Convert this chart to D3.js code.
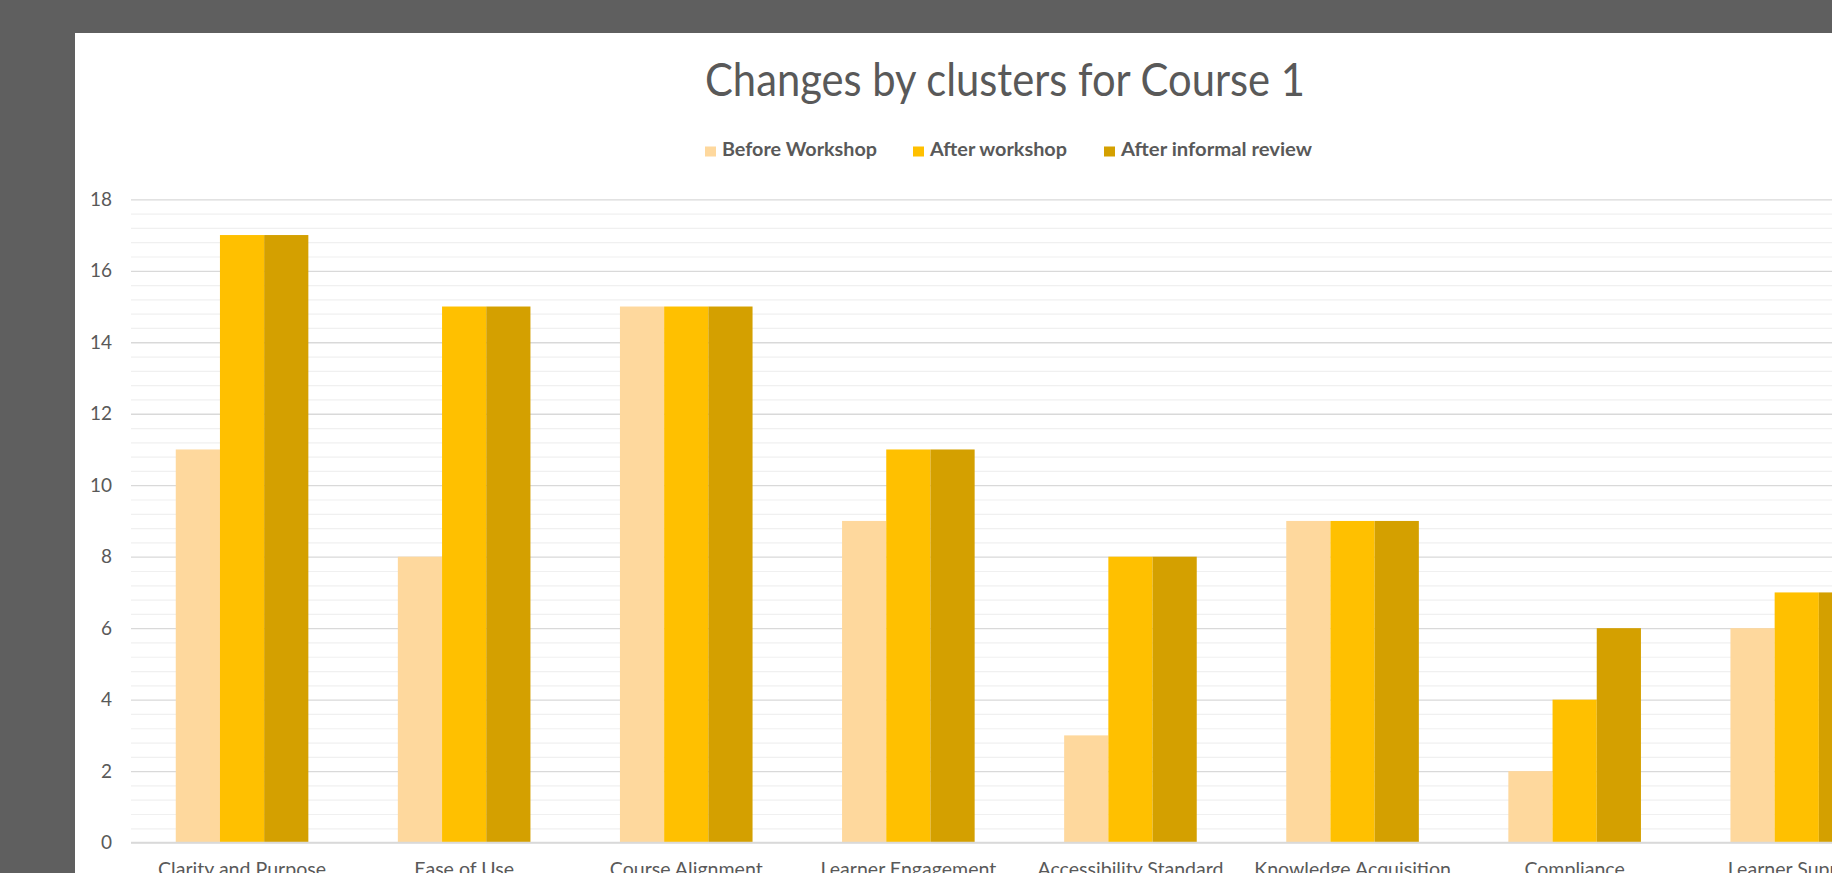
<!DOCTYPE html>
<html>
<head>
<meta charset="utf-8">
<script src="https://cdn.jsdelivr.net/npm/d3@7"></script>
<style>
  html, body { margin: 0; padding: 0; background: #5f5f5f; overflow: hidden; }
  svg { display: block; }
  text { font-family: Lato, "Open Sans", sans-serif; fill: #595959; }
</style>
</head>
<body>
<svg id="chart" width="1832" height="873"></svg>
<script>
// ---------- data ----------
const categories = [
  "Clarity and Purpose", "Ease of Use", "Course Alignment", "Learner Engagement",
  "Accessibility Standard", "Knowledge Acquisition", "Compliance", "Learner Support"
];
const seriesNames = ["Before Workshop", "After workshop", "After informal review"];
const beforeWorkshop = [11, 8, 15, 9, 3, 9, 2, 6];
const afterWorkshop = [17, 15, 15, 11, 8, 9, 4, 7];
const afterInformalReview = [17, 15, 15, 11, 8, 9, 6, 7];
const yTicks = [0, 2, 4, 6, 8, 10, 12, 14, 16, 18];
const titleText = "Changes by clusters for Course 1";

// ---------- style / layout ----------
const colors = ["#FED89D", "#FFC000", "#D4A000"];
const W = 1832, H = 873;
const panel = { x: 75, y: 33 };
const plot = { left: 131, top: 199.3, bottom: 842.6, step: 222.1 };

const svg = d3.select("#chart");
svg.append("rect").attr("width", W).attr("height", H).attr("fill", "#5f5f5f");
svg.append("rect").attr("x", panel.x).attr("y", panel.y)
  .attr("width", W - panel.x + 50).attr("height", H - panel.y + 50).attr("fill", "#ffffff");

const series = [beforeWorkshop, afterWorkshop, afterInformalReview];
const rows = categories.map((c, i) => ({ cat: c, vals: series.map(s => s[i]) }));

const x0 = d3.scaleBand().domain(categories)
  .range([plot.left, plot.left + plot.step * categories.length])
  .paddingInner(0.403).paddingOuter(0.2015);
const x1 = d3.scaleBand().domain(seriesNames).range([0, x0.bandwidth()]).padding(0);
const y = d3.scaleLinear().domain([0, 18]).range([plot.bottom, plot.top]);

// minor gridlines
const minor = d3.range(0, 18.001, 0.4).filter(v => Math.abs(v / 2 - Math.round(v / 2)) > 1e-6);
svg.append("g").attr("transform", `translate(${plot.left},0)`)
  .call(d3.axisLeft(y).tickValues(minor).tickSize(-(W - plot.left)).tickFormat(""))
  .call(g => g.select(".domain").remove())
  .call(g => g.selectAll("line").attr("stroke", "#f0f0f0").attr("stroke-width", 1.2));

// major gridlines + labels
svg.append("g").attr("transform", `translate(${plot.left},0)`)
  .call(d3.axisLeft(y).tickValues(yTicks).tickSize(-(W - plot.left)).tickPadding(19))
  .call(g => g.select(".domain").remove())
  .call(g => g.selectAll("line").attr("stroke", "#d9d9d9").attr("stroke-width", 1.3))
  .call(g => g.selectAll("text").attr("font-size", 19).attr("fill", "#595959")
    .style("font-family", "Lato, sans-serif"));

// bars
const groups = svg.append("g").selectAll("g").data(rows).join("g")
  .attr("transform", d => `translate(${x0(d.cat)},0)`);
groups.selectAll("rect").data(d => d.vals.map((v, j) => ({ v, name: seriesNames[j], j })))
  .join("rect")
  .attr("x", d => x1(d.name))
  .attr("width", x1.bandwidth())
  .attr("y", d => y(d.v))
  .attr("height", d => y(0) - y(d.v))
  .attr("fill", d => colors[d.j]);

// baseline
svg.append("line").attr("x1", plot.left).attr("x2", W)
  .attr("y1", y(0)).attr("y2", y(0)).attr("stroke", "#d9d9d9").attr("stroke-width", 1.5);

// x labels
const xl = svg.append("g").selectAll("text").data(categories).join("text")
  .attr("x", d => x0(d) + x0.bandwidth() / 2)
  .attr("y", 876)
  .attr("text-anchor", "middle")
  .attr("font-size", 19)
  .text(d => d);
// compress to Calibri-like width
const firstW = xl.nodes()[0].getComputedTextLength();
const kx = 168 / firstW;
xl.each(function () {
  const w = this.getComputedTextLength();
  d3.select(this).attr("textLength", w * kx).attr("lengthAdjust", "spacingAndGlyphs");
});

// title
const t = svg.append("text").attr("x", 1005).attr("y", 96)
  .attr("text-anchor", "middle").attr("font-size", 47).attr("font-weight", 400)
  .text(titleText);
t.attr("textLength", 600).attr("lengthAdjust", "spacingAndGlyphs");

// legend
const legendX = [705, 913, 1104];
const legendW = [155, 137, 191];
const lg = svg.append("g").selectAll("g").data(seriesNames).join("g")
  .attr("transform", (d, i) => `translate(${legendX[i]},0)`);
lg.append("rect").attr("x", 0).attr("y", 146.5).attr("width", 11).attr("height", 10)
  .attr("fill", (d, i) => colors[i]);
lg.append("text").attr("x", 17).attr("y", 156).attr("font-size", 18).attr("font-weight", 700)
  .text(d => d)
  .attr("textLength", (d, i) => legendW[i])
  .attr("lengthAdjust", "spacingAndGlyphs");
</script>
</body>
</html>
